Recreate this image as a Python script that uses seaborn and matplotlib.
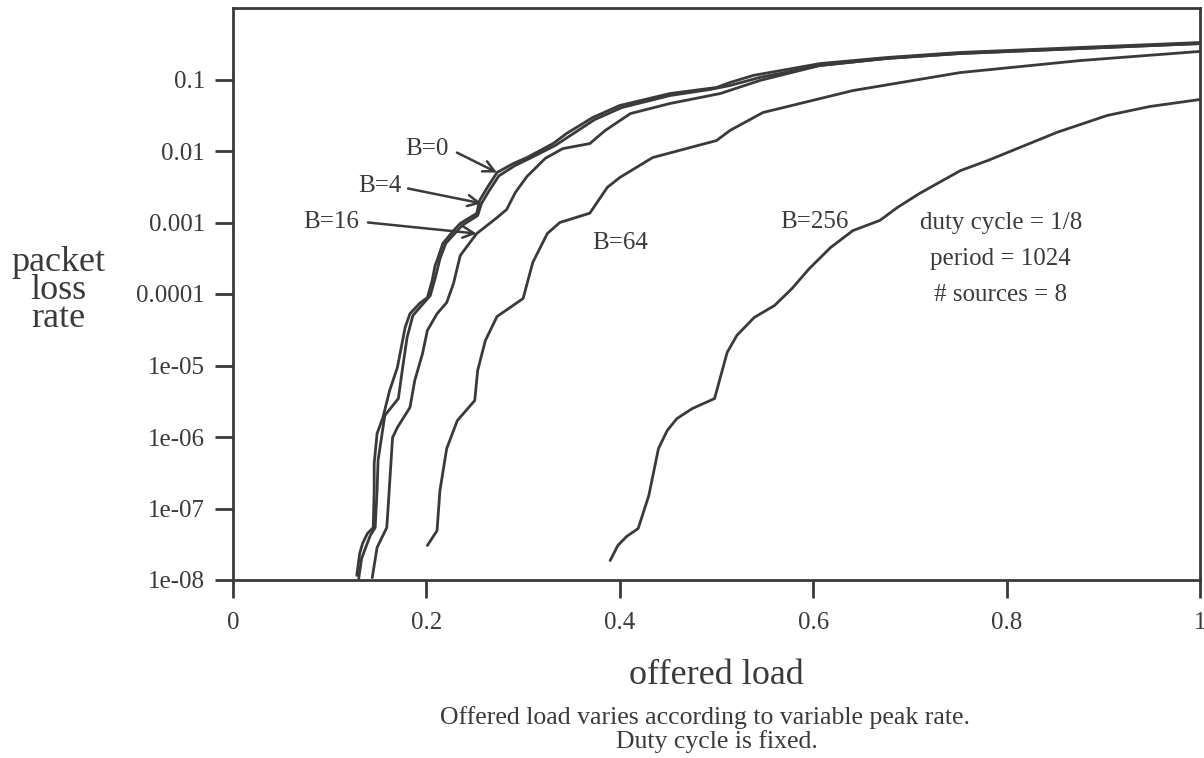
import numpy as np
import pandas as pd
import matplotlib
matplotlib.use("Agg")
import matplotlib.pyplot as plt
from matplotlib.ticker import NullLocator
import seaborn as sns

# Packet loss rate versus offered load for several buffer sizes B
load_b0 = [0.128, 0.131, 0.134, 0.139, 0.145, 0.146, 0.146, 0.149, 0.155, 0.162,
           0.170, 0.178, 0.183, 0.193, 0.201, 0.206, 0.209, 0.211, 0.217, 0.228,
           0.235, 0.252, 0.255, 0.263, 0.273, 0.290, 0.304, 0.331, 0.345, 0.372,
           0.400, 0.452, 0.500, 0.514, 0.538, 0.607, 0.676, 0.752, 1.0]
loss_b0 = [1.16e-8, 2.35e-8, 3.24e-8, 4.47e-8, 5.4e-8, 1.79e-7, 4.26e-7, 1.12e-6, 1.87e-6, 4.47e-6,
           9.4e-6, 3.4e-5, 5.3e-5, 7.4e-5, 8.9e-5, 1.55e-4, 2.5e-4, 2.94e-4, 5.1e-4, 7.7e-4,
           9.7e-4, 1.34e-3, 2.03e-3, 3.09e-3, 5.0e-3, 6.7e-3, 8.1e-3, 0.0127, 0.0176, 0.0294,
           0.0433, 0.0637, 0.0773, 0.0908, 0.114, 0.167, 0.203, 0.239, 0.329]

load_b4 = [0.130, 0.133, 0.138, 0.142, 0.147, 0.149, 0.150, 0.157, 0.171, 0.175,
           0.180, 0.186, 0.195, 0.204, 0.209, 0.214, 0.220, 0.230, 0.237, 0.253,
           0.257, 0.265, 0.275, 0.292, 0.307, 0.333, 0.349, 0.374, 0.402, 0.452,
           0.493, 0.514, 0.545, 0.607, 0.676, 0.752, 1.0]
loss_b4 = [1.05e-8, 2.0e-8, 3.04e-8, 4.2e-8, 5.4e-8, 1.79e-7, 4.7e-7, 2.0e-6, 3.45e-6, 8.5e-6,
           2.46e-5, 5.0e-5, 6.9e-5, 9.5e-5, 1.65e-4, 3.1e-4, 5.1e-4, 7.2e-4, 9.1e-4, 1.25e-3,
           1.85e-3, 2.8e-3, 4.5e-3, 6.3e-3, 7.9e-3, 0.0119, 0.0165, 0.0275, 0.0405, 0.0597,
           0.0724, 0.0824, 0.107, 0.157, 0.197, 0.231, 0.318]

load_b16 = [0.144, 0.149, 0.159, 0.160, 0.165, 0.170, 0.183, 0.188, 0.196, 0.201,
            0.211, 0.221, 0.228, 0.235, 0.245, 0.252, 0.273, 0.283, 0.292, 0.304,
            0.323, 0.341, 0.369, 0.385, 0.411, 0.452, 0.504, 0.545, 0.607, 0.676,
            0.752, 1.0]
loss_b16 = [1.08e-8, 2.85e-8, 5.4e-8, 8.5e-8, 9.8e-7, 1.36e-6, 2.59e-6, 6.2e-6, 1.47e-5, 3.09e-5,
            5.3e-5, 7.6e-5, 1.4e-4, 3.45e-4, 5.25e-4, 7.0e-4, 1.17e-3, 1.52e-3, 2.63e-3, 4.4e-3,
            7.9e-3, 0.0108, 0.0127, 0.0194, 0.0334, 0.0462, 0.0637, 0.097, 0.157, 0.197,
            0.231, 0.318]

load_b64 = [0.201, 0.211, 0.214, 0.221, 0.232, 0.250, 0.253, 0.261, 0.273, 0.300,
            0.310, 0.325, 0.338, 0.369, 0.387, 0.400, 0.434, 0.500, 0.514, 0.548,
            0.641, 0.752, 0.876, 1.0]
loss_b64 = [3.04e-8, 4.9e-8, 1.79e-7, 6.9e-7, 1.7e-6, 3.24e-6, 8.5e-6, 2.24e-5, 4.84e-5, 8.65e-5,
            2.76e-4, 7.0e-4, 1.0e-3, 1.35e-3, 3.09e-3, 4.26e-3, 8.1e-3, 0.0140, 0.0194, 0.0345,
            0.070, 0.125, 0.184, 0.247]

load_b256 = [0.390, 0.398, 0.407, 0.419, 0.430, 0.440, 0.449, 0.459, 0.475, 0.498,
             0.511, 0.521, 0.539, 0.560, 0.578, 0.596, 0.618, 0.641, 0.669, 0.687,
             0.710, 0.752, 0.781, 0.852, 0.904, 0.948, 1.0]
loss_b256 = [1.87e-8, 3.04e-8, 4.06e-8, 5.25e-8, 1.52e-7, 6.9e-7, 1.23e-6, 1.81e-6, 2.5e-6, 3.45e-6,
             1.52e-5, 2.63e-5, 4.7e-5, 6.9e-5, 1.19e-4, 2.27e-4, 4.47e-4, 7.7e-4, 1.07e-3, 1.62e-3,
             2.55e-3, 5.3e-3, 7.4e-3, 0.0182, 0.0314, 0.0419, 0.0525]

buffer_labels = ["B=0", "B=4", "B=16", "B=64", "B=256"]
x_ticks = [0, 0.2, 0.4, 0.6, 0.8, 1]
x_tick_labels = ["0", "0.2", "0.4", "0.6", "0.8", "1"]
y_ticks = [1e-1, 1e-2, 1e-3, 1e-4, 1e-5, 1e-6, 1e-7, 1e-8]
y_tick_labels = ["0.1", "0.01", "0.001", "0.0001", "1e-05", "1e-06", "1e-07", "1e-08"]
params_text = ["duty cycle = 1/8", "period = 1024", "# sources = 8"]

series = {
    "B=0": (load_b0, loss_b0),
    "B=4": (load_b4, loss_b4),
    "B=16": (load_b16, loss_b16),
    "B=64": (load_b64, loss_b64),
    "B=256": (load_b256, loss_b256),
}
df = pd.concat(
    [pd.DataFrame({"load": x, "loss": y, "buffer": name}) for name, (x, y) in series.items()],
    ignore_index=True,
)

INK = "#3a3a3a"

sns.set_theme(style="white")
plt.rcParams["font.family"] = ["Liberation Serif", "DejaVu Serif"]
plt.rcParams["text.color"] = INK

W, H = 1204, 758
fig = plt.figure(figsize=(W / 100, H / 100), dpi=100)
fig.patch.set_facecolor("white")
ax = fig.add_axes([233 / W, 1 - 580 / H, 967 / W, 572 / H])
ax.set_facecolor("white")

sns.lineplot(data=df, x="load", y="loss", hue="buffer", hue_order=buffer_labels,
             palette=[INK] * len(buffer_labels), estimator=None, sort=False,
             legend=False, linewidth=2.0, ax=ax)
for ln in ax.get_lines():
    ln.set_solid_joinstyle("round")
    ln.set_solid_capstyle("round")

ax.set_yscale("log")
ax.set_xlim(0, 1)
ax.set_ylim(1e-8, 1)
ax.set_xticks(x_ticks)
ax.set_xticklabels(x_tick_labels)
ax.set_yticks(y_ticks)
ax.set_yticklabels(y_tick_labels)
ax.yaxis.set_minor_locator(NullLocator())
ax.xaxis.set_minor_locator(NullLocator())
ax.set_xlabel("")
ax.set_ylabel("")

for sp in ax.spines.values():
    sp.set_visible(True)
    sp.set_color(INK)
    sp.set_linewidth(2.0)
ax.tick_params(axis="both", which="major", direction="out", length=13, width=2.0,
               color=INK, labelcolor=INK, labelsize=18)
ax.tick_params(axis="y", pad=7, left=True)
ax.tick_params(axis="x", pad=10, bottom=True)
ax.grid(False)

# curve labels
label_pos = {
    "B=0": (0.2006, 0.0108),
    "B=4": (0.152, 3.2e-3),
    "B=16": (0.101, 1.03e-3),
    "B=64": (0.400, 5.25e-4),
    "B=256": (0.601, 1.03e-3),
}
for name, (lx, ly) in label_pos.items():
    ax.text(lx, ly, name, ha="center", va="center", fontsize=18, color=INK)

# arrows from the three crowded labels to their curves
arrow_spec = {
    "B=0": ((0.2316, 9.5e-3), 0.273),
    "B=4": ((0.181, 2.99e-3), 0.257),
    "B=16": ((0.1396, 1.0e-3), 0.252),
}
for name, (start, target_x) in arrow_spec.items():
    xs = np.asarray(series[name][0])
    ys = np.asarray(series[name][1])
    i = int(np.argmin(np.abs(xs - target_x)))
    ax.annotate("", xy=(xs[i], ys[i]), xytext=start,
                arrowprops=dict(arrowstyle="->", color=INK, lw=1.8,
                                shrinkA=0, shrinkB=0, mutation_scale=20))

for txt, ty in zip(params_text, [1.0e-3, 3.1e-4, 9.8e-5]):
    ax.text(0.794, ty, txt, ha="center", va="center", fontsize=18, color=INK)

# axis titles and caption
fig.text(58 / W, 1 - 291 / H, "packet\nloss\nrate", ha="center", va="center",
         multialignment="center", linespacing=0.8, fontsize=26, color=INK)
fig.text(716 / W, 1 - 676 / H, "offered load", ha="center", va="center", fontsize=26, color=INK)
fig.text(705 / W, 1 - 718 / H, "Offered load varies according to variable peak rate.",
         ha="center", va="center", fontsize=18.5, color=INK)
fig.text(717 / W, 1 - 742 / H, "Duty cycle is fixed.",
         ha="center", va="center", fontsize=18.5, color=INK)

fig.savefig("out.png", dpi=100, facecolor="white")
